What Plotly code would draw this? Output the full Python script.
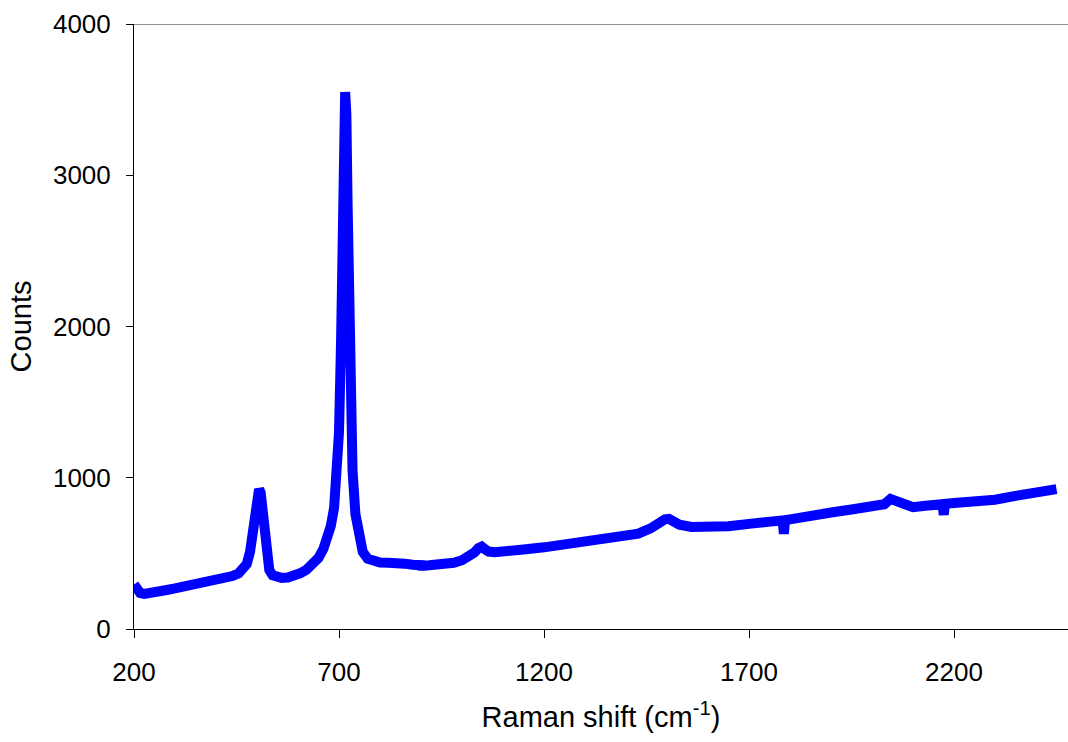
import plotly.graph_objects as go

raman_shift = [200, 207, 215, 225, 240, 260, 280, 300, 320, 340, 360, 380, 400, 420, 440, 455, 465, 475, 483, 490, 496, 501, 505, 509, 514, 519, 524, 530, 538, 548, 560, 575, 590, 605, 620, 635, 650, 662, 672, 680, 688, 695, 700, 705, 709, 712, 715, 718, 721, 724, 728, 733, 740, 748, 758, 770, 785, 800, 820, 840, 860, 880, 900, 903, 906, 920, 940, 960, 980, 1000, 1015, 1030, 1040, 1048, 1055, 1065, 1080, 1100, 1150, 1200, 1250, 1300, 1350, 1400, 1430, 1460, 1480, 1495, 1505, 1515, 1530, 1560, 1600, 1650, 1700, 1740, 1775, 1782, 1785, 1788, 1800, 1850, 1900, 1950, 2000, 2030, 2045, 2060, 2080, 2100, 2130, 2165, 2172, 2175, 2178, 2200, 2250, 2300, 2350, 2400, 2450]
counts = [295, 255, 238, 232, 235, 245, 258, 268, 278, 290, 300, 312, 322, 335, 350, 368, 390, 430, 510, 640, 800, 900, 925, 900, 780, 610, 470, 390, 355, 342, 338, 340, 350, 368, 390, 420, 470, 530, 600, 680, 800, 1000, 1300, 1900, 2700, 3300, 3550, 3400, 2800, 2100, 1500, 1050, 760, 600, 510, 465, 445, 440, 438, 440, 432, 425, 422, 395, 420, 422, 425, 428, 438, 455, 475, 505, 535, 545, 530, 512, 508, 510, 525, 540, 560, 575, 590, 610, 630, 665, 705, 725, 728, 715, 690, 675, 670, 680, 695, 705, 718, 718, 630, 720, 725, 755, 770, 790, 805, 825, 860, 845, 815, 805, 815, 825, 825, 755, 828, 833, 842, 855, 880, 905, 925]

x_ticks = [200, 700, 1200, 1700, 2200]
y_ticks = [0, 1000, 2000, 3000, 4000]

fig = go.Figure()
fig.add_trace(go.Scatter(
    x=raman_shift, y=counts, mode="lines",
    line=dict(color="#0000ff", width=10),
    showlegend=False,
))

font = dict(family="Liberation Sans, Arial, sans-serif", size=26, color="black")
title_font = dict(family="Liberation Sans, Arial, sans-serif", size=29, color="black")
fig.update_layout(
    width=1068, height=742,
    margin=dict(l=134, r=0, t=24, b=113),
    paper_bgcolor="white", plot_bgcolor="white",
    font=font,
    xaxis=dict(
        range=[200, 2478], tickvals=x_ticks, ticktext=[str(v) for v in x_ticks],
        showgrid=False, zeroline=False, showline=True, linecolor="black", linewidth=1,
        ticks="outside", ticklen=8, tickcolor="black", tickfont=font,
        ticklabelstandoff=12,
        title=dict(text="Raman shift (cm<sup>-1</sup>)", font=title_font, standoff=20),
    ),
    yaxis=dict(
        range=[0, 4000], tickvals=y_ticks, ticktext=[str(v) for v in y_ticks],
        showgrid=False, zeroline=False, showline=True, linecolor="black", linewidth=1,
        ticks="outside", ticklen=7, tickcolor="black", tickfont=font,
        ticklabelstandoff=10,
        title=dict(text="Counts", font=title_font, standoff=12),
    ),
    shapes=[dict(type="line", xref="paper", yref="y", x0=0, x1=1, y0=4000, y1=4000,
                 line=dict(color="#6e6e6e", width=1.5))],
)
fig.write_html("out.html")
